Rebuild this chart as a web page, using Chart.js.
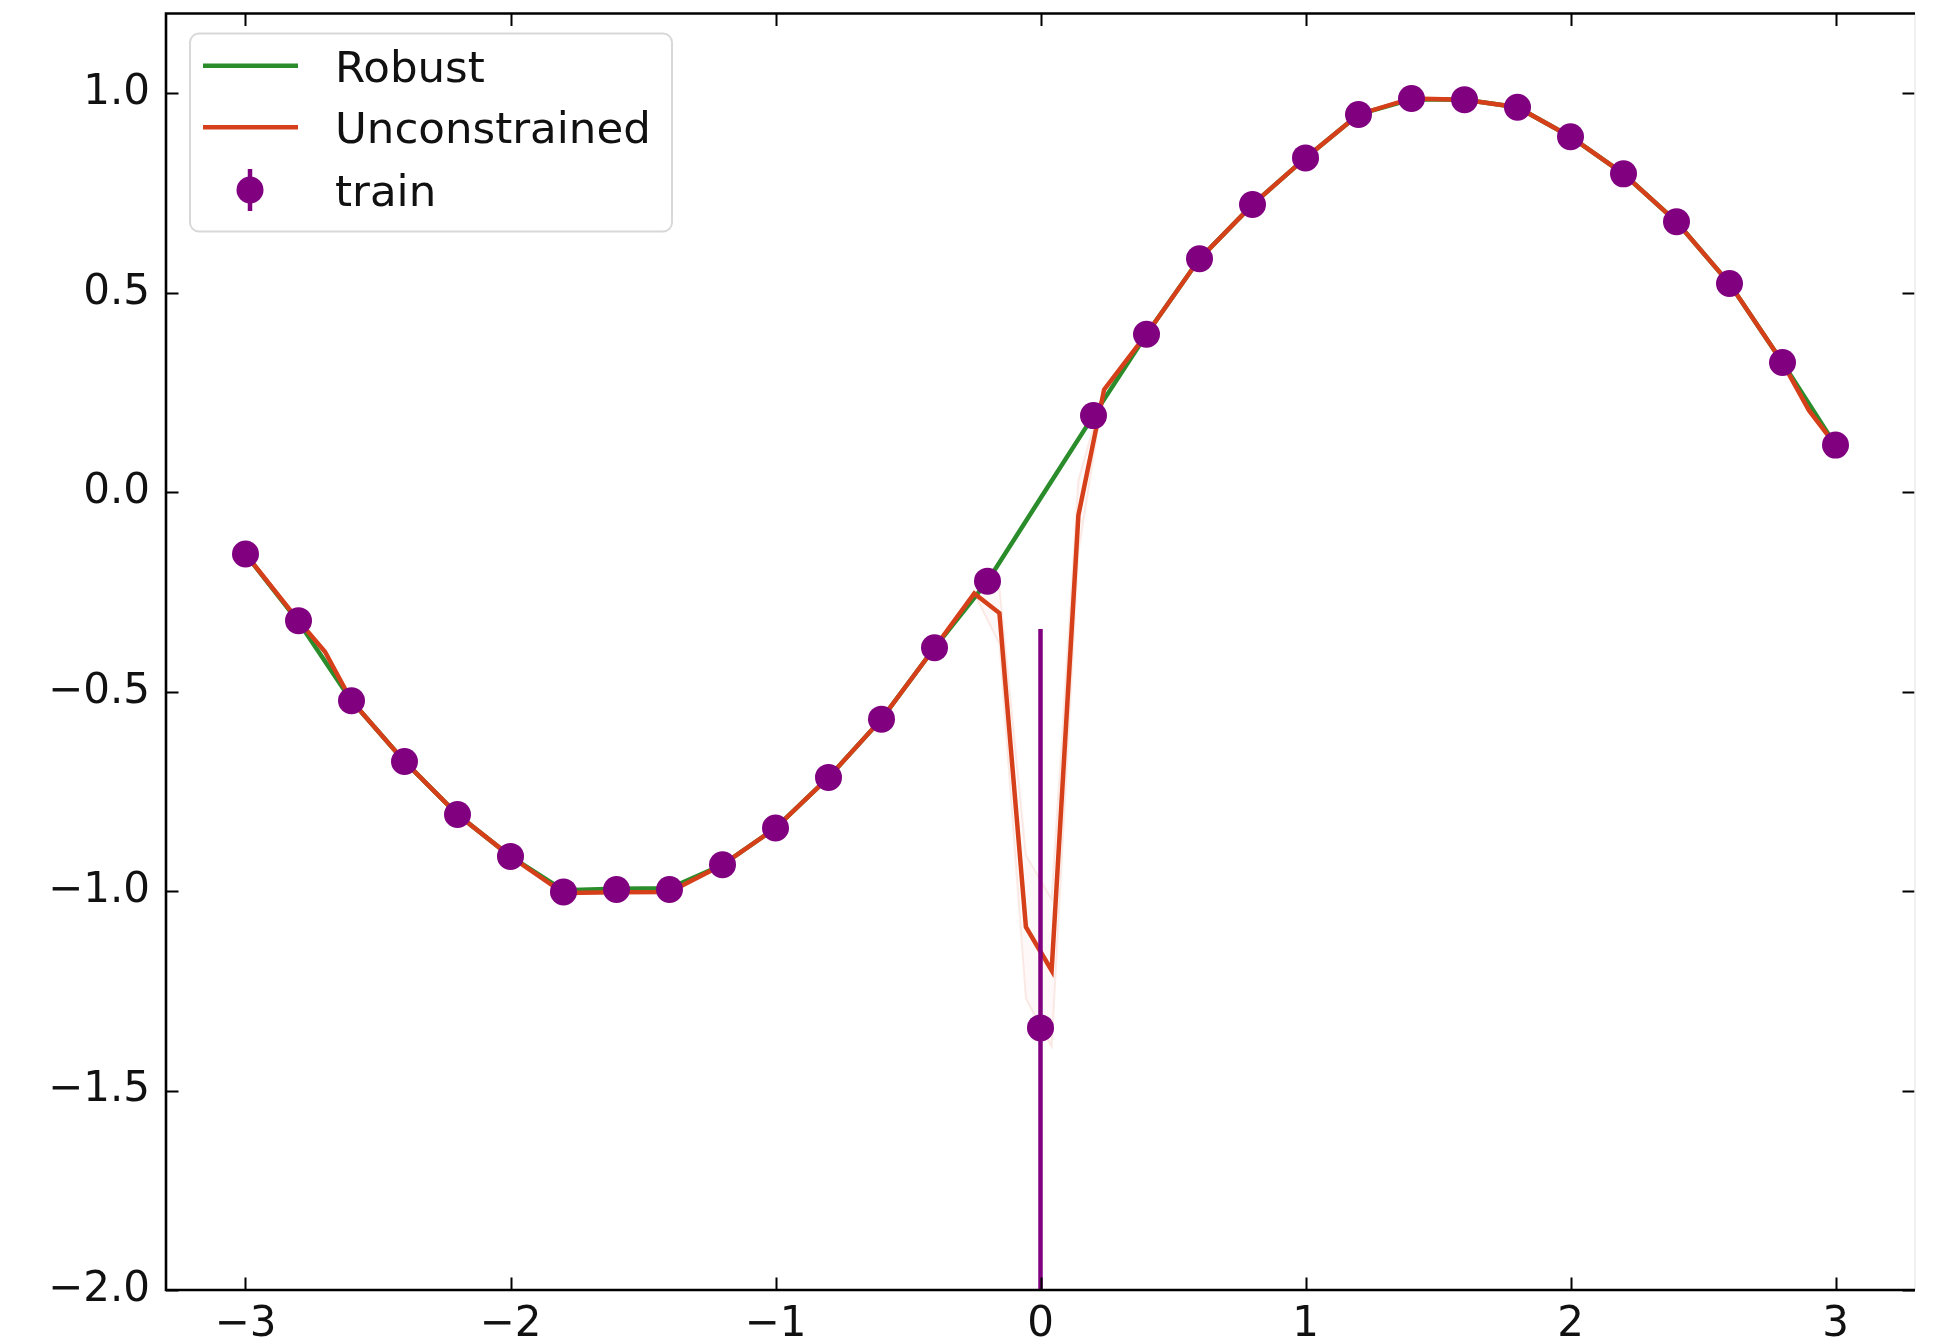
<!DOCTYPE html>
<html>
<head>
<meta charset="utf-8">
<script src="https://cdn.jsdelivr.net/npm/chart.js@4.4.1/dist/chart.umd.min.js"></script>
<style>
  html, body { margin: 0; padding: 0; background: #fff; }
  #wrap { width: 1942px; height: 1341px; }
</style>
</head>
<body>
<div id="wrap"><canvas id="fitChart" width="1942" height="1341"></canvas></div>
<script>
// training points (x, y, y error)
const trainX = [-3.0, -2.8, -2.6, -2.4, -2.2, -2.0, -1.8, -1.6, -1.4, -1.2, -1.0, -0.8, -0.6, -0.4, -0.2,
                0.0, 0.2, 0.4, 0.6, 0.8, 1.0, 1.2, 1.4, 1.6, 1.8, 2.0, 2.2, 2.4, 2.6, 2.8, 3.0];
const trainY = [-0.155, -0.322, -0.523, -0.675, -0.808, -0.913, -1.002, -0.996, -0.996, -0.934, -0.842, -0.715, -0.569, -0.390, -0.223,
                -1.343, 0.192, 0.396, 0.585, 0.721, 0.838, 0.947, 0.987, 0.984, 0.965, 0.891, 0.798, 0.678, 0.523, 0.325, 0.118];
const trainErr = [0, 0, 0, 0, 0, 0, 0, 0, 0, 0, 0, 0, 0, 0, 0,
                  1.0, 0, 0, 0, 0, 0, 0, 0, 0, 0, 0, 0, 0, 0, 0, 0];

// robust fit
const robustX = [-3.0, -2.8, -2.6, -2.4, -2.2, -2.0, -1.8, -1.6, -1.4, -1.2, -1.0, -0.8, -0.6, -0.4, -0.2,
                 0.0, 0.2, 0.4, 0.6, 0.8, 1.0, 1.2, 1.4, 1.6, 1.8, 2.0, 2.2, 2.4, 2.6, 2.8, 3.0];
const robustY = [-0.155, -0.325, -0.523, -0.675, -0.808, -0.913, -0.998, -0.994, -0.993, -0.934, -0.842, -0.715, -0.569, -0.390, -0.223,
                 -0.015, 0.192, 0.396, 0.585, 0.721, 0.838, 0.947, 0.985, 0.984, 0.965, 0.891, 0.798, 0.678, 0.523, 0.325, 0.118];

// unconstrained fit, with its faint band around the dip
const unconX = [-3.0, -2.8, -2.7, -2.6, -2.4, -2.2, -2.0, -1.8, -1.6, -1.4, -1.2, -1.0, -0.8, -0.6, -0.4,
                -0.25, -0.155, -0.055, 0.042, 0.143, 0.24,
                0.4, 0.6, 0.8, 1.0, 1.2, 1.4, 1.6, 1.8, 2.0, 2.2, 2.4, 2.6, 2.8, 2.9, 3.0];
const unconY = [-0.155, -0.322, -0.400, -0.523, -0.675, -0.808, -0.913, -1.005, -1.003, -1.002, -0.934, -0.842, -0.715, -0.569, -0.390,
                -0.254, -0.303, -1.090, -1.199, -0.058, 0.257,
                0.396, 0.585, 0.721, 0.838, 0.947, 0.987, 0.984, 0.965, 0.891, 0.798, 0.678, 0.523, 0.325, 0.205, 0.118];
const unconHi = [-0.155, -0.322, -0.400, -0.523, -0.675, -0.808, -0.913, -1.005, -1.003, -1.002, -0.934, -0.842, -0.715, -0.569, -0.390,
                 -0.254, -0.240, -0.910, -1.020, 0.030, 0.257,
                 0.396, 0.585, 0.721, 0.838, 0.947, 0.987, 0.984, 0.965, 0.891, 0.798, 0.678, 0.523, 0.325, 0.205, 0.118];
const unconLo = [-0.155, -0.322, -0.400, -0.523, -0.675, -0.808, -0.913, -1.005, -1.003, -1.002, -0.934, -0.842, -0.715, -0.569, -0.390,
                 -0.254, -0.380, -1.270, -1.390, -0.150, 0.257,
                 0.396, 0.585, 0.721, 0.838, 0.947, 0.987, 0.984, 0.965, 0.891, 0.798, 0.678, 0.523, 0.325, 0.205, 0.118];

// axes
const xTicks = [-3, -2, -1, 0, 1, 2, 3];
const xTickLabels = ['\u22123', '\u22122', '\u22121', '0', '1', '2', '3'];
const yTicks = [-2.0, -1.5, -1.0, -0.5, 0.0, 0.5, 1.0];
const yTickLabels = ['\u22122.0', '\u22121.5', '\u22121.0', '\u22120.5', '0.0', '0.5', '1.0'];

const seriesNames = ['Robust', 'Unconstrained', 'train'];
const GREEN = '#2a8c2a';
const RED = '#d5401a';
const PURPLE = '#800080';
const FONT = "'DejaVu Sans', sans-serif";

function pts(xs, ys) {
    return xs.map((x, i) => ({ x: x, y: ys[i] }));
}

function errorSegments() {
    const out = [];
    trainX.forEach((x, i) => {
        if (trainErr[i] > 0) {
            out.push({ x: x, y: trainY[i] - trainErr[i] });
            out.push({ x: x, y: trainY[i] + trainErr[i] });
            out.push({ x: x, y: null });
        }
    });
    return out;
}

// matplotlib style frame: spines plus inward ticks on all four sides
const framePlugin = {
    id: 'frame',
    afterDatasetsDraw(chart) {
        const c = chart.ctx;
        const a = chart.chartArea;
        const xs = chart.scales.x, ys = chart.scales.y;
        const tl = 12.5;
        c.save();
        c.strokeStyle = '#000';
        c.lineWidth = 2;
        c.beginPath();
        xTicks.forEach(v => {
            const p = Math.round(xs.getPixelForValue(v)) + 0.5;
            c.moveTo(p, a.bottom); c.lineTo(p, a.bottom - tl);
            c.moveTo(p, a.top); c.lineTo(p, a.top + tl);
        });
        yTicks.forEach(v => {
            const p = Math.round(ys.getPixelForValue(v)) + 0.5;
            c.moveTo(a.left, p); c.lineTo(a.left + tl, p);
            c.moveTo(a.right, p); c.lineTo(a.right - tl, p);
        });
        c.stroke();
        // right spine is cut by the image edge in the reference, only a faint line left
        c.strokeStyle = '#ececec';
        c.lineWidth = 1.5;
        c.beginPath();
        c.moveTo(a.right, a.top); c.lineTo(a.right, a.bottom);
        c.stroke();
        c.strokeStyle = '#000';
        c.lineWidth = 2.6;
        c.beginPath();
        c.moveTo(a.right, a.top); c.lineTo(a.left, a.top);
        c.lineTo(a.left, a.bottom); c.lineTo(a.right, a.bottom);
        c.stroke();
        c.restore();
    }
};

const legendPlugin = {
    id: 'mplLegend',
    afterDraw(chart) {
        const c = chart.ctx;
        const bx = 190, by = 33.5, bw = 482, bh = 198, r = 9;
        c.save();
        c.beginPath();
        c.moveTo(bx + r, by);
        c.arcTo(bx + bw, by, bx + bw, by + bh, r);
        c.arcTo(bx + bw, by + bh, bx, by + bh, r);
        c.arcTo(bx, by + bh, bx, by, r);
        c.arcTo(bx, by, bx + bw, by, r);
        c.closePath();
        c.fillStyle = 'rgba(255,255,255,0.85)';
        c.fill();
        c.strokeStyle = '#d8d8d8';
        c.lineWidth = 2;
        c.stroke();

        const rows = [65.7, 127.3, 190];
        c.lineWidth = 4.5;
        c.strokeStyle = GREEN;
        c.beginPath(); c.moveTo(203, rows[0]); c.lineTo(298, rows[0]); c.stroke();
        c.strokeStyle = RED;
        c.beginPath(); c.moveTo(203, rows[1]); c.lineTo(298, rows[1]); c.stroke();
        c.strokeStyle = PURPLE;
        c.lineWidth = 4.5;
        c.beginPath(); c.moveTo(250, rows[2] - 21); c.lineTo(250, rows[2] + 21); c.stroke();
        c.fillStyle = PURPLE;
        c.beginPath(); c.arc(250, rows[2], 13.5, 0, Math.PI * 2); c.fill();

        c.fillStyle = '#111';
        c.font = '43.5px ' + FONT;
        c.textBaseline = 'alphabetic';
        c.textAlign = 'left';
        seriesNames.forEach((name, i) => {
            c.fillText(name, 335, rows[i] + 16);
        });
        c.restore();
    }
};

const ctx = document.getElementById('fitChart').getContext('2d');
new Chart(ctx, {
    type: 'scatter',
    data: {
        datasets: [
            {
                label: 'band hi', data: pts(unconX, unconHi), showLine: true,
                borderColor: 'rgba(213,64,26,0.10)', borderWidth: 2, pointRadius: 0,
                backgroundColor: 'rgba(213,64,26,0.03)', fill: '+1', order: 5
            },
            {
                label: 'band lo', data: pts(unconX, unconLo), showLine: true,
                borderColor: 'rgba(213,64,26,0.10)', borderWidth: 2, pointRadius: 0, order: 5
            },
            {
                label: seriesNames[0], data: pts(robustX, robustY), showLine: true,
                borderColor: GREEN, borderWidth: 4.5, pointRadius: 0, order: 3
            },
            {
                label: seriesNames[1], data: pts(unconX, unconY), showLine: true,
                borderColor: RED, borderWidth: 4.5, pointRadius: 0, order: 2
            },
            {
                label: 'errorbar', data: errorSegments(), showLine: true, spanGaps: false,
                borderColor: PURPLE, borderWidth: 4.5, pointRadius: 0, order: 1
            },
            {
                label: seriesNames[2], data: pts(trainX, trainY), showLine: false,
                pointRadius: 13.5, pointBackgroundColor: PURPLE, pointBorderWidth: 0,
                backgroundColor: PURPLE, order: 0
            }
        ]
    },
    options: {
        responsive: false,
        animation: false,
        devicePixelRatio: 1,
        layout: { padding: { top: 10, right: 27, left: 0, bottom: 0 } },
        plugins: { legend: { display: false }, tooltip: { enabled: false } },
        scales: {
            x: {
                type: 'linear', min: -3.3, max: 3.3,
                afterBuildTicks: s => { s.ticks = xTicks.map(v => ({ value: v })); },
                afterFit: s => { s.height = 51; s.paddingLeft = 0; s.paddingRight = 0; },
                ticks: {
                    callback: (v, i) => xTickLabels[i],
                    font: { family: FONT, size: 42 }, color: '#111', padding: 10,
                    maxRotation: 0, autoSkip: false
                },
                grid: { display: false, drawTicks: false },
                border: { display: false }
            },
            y: {
                type: 'linear', min: -2.0, max: 1.2,
                afterBuildTicks: s => { s.ticks = yTicks.map(v => ({ value: v })); },
                afterFit: s => { s.width = 166; s.paddingTop = 0; s.paddingBottom = 0; },
                ticks: {
                    callback: (v, i) => yTickLabels[i],
                    font: { family: FONT, size: 42 }, color: '#111', padding: 16,
                    autoSkip: false
                },
                grid: { display: false, drawTicks: false },
                border: { display: false }
            }
        }
    },
    plugins: [framePlugin, legendPlugin]
});
</script>
</body>
</html>
